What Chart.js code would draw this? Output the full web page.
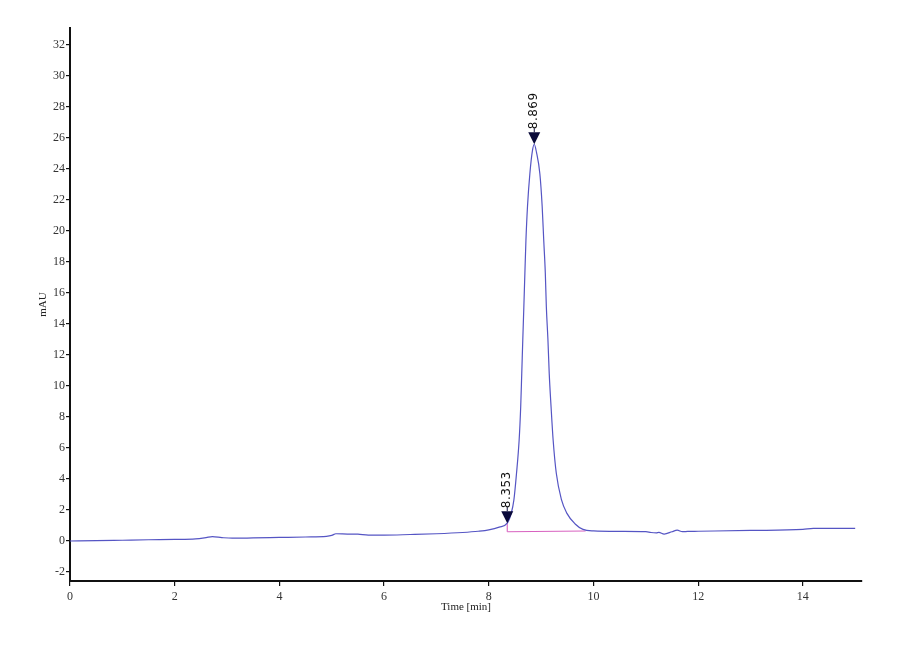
<!DOCTYPE html>
<html>
<head>
<meta charset="utf-8">
<script src="https://cdn.jsdelivr.net/npm/chart.js@4.4.1/dist/chart.umd.min.js"></script>
<style>
  html, body { margin: 0; padding: 0; background: #ffffff; }
  #wrap { width: 900px; height: 660px; }
</style>
</head>
<body>
<div id="wrap"><canvas id="c" width="900" height="660"></canvas></div>
<script>
// Retention time (min)
const times = [0, 0.5, 1.0, 1.5, 2.0, 2.4, 2.6, 2.72, 2.9, 3.1, 3.5, 4.0, 4.5, 4.9, 5.0, 5.08, 5.3, 5.5, 5.7, 6.0, 6.5, 7.0, 7.5, 7.8, 8.0, 8.2,
  8.353, 8.43, 8.48, 8.53, 8.58, 8.61, 8.63, 8.65, 8.67, 8.69, 8.71, 8.74, 8.785, 8.835, 8.869, 8.91, 8.976, 9.02, 9.05, 9.08, 9.10, 9.13, 9.155,
  9.19, 9.23, 9.29, 9.39, 9.49, 9.65, 9.80, 10.0, 10.5, 11.0, 11.1, 11.2, 11.25, 11.35, 11.5, 11.6, 11.7, 11.8, 12.0, 13.0, 14.0, 14.2, 15.0];
// Detector signal (mAU)
const signal = [0.0, 0.02, 0.05, 0.08, 0.1, 0.14, 0.22, 0.28, 0.22, 0.18, 0.2, 0.23, 0.26, 0.3, 0.36, 0.47, 0.45, 0.44, 0.38, 0.38, 0.42, 0.47, 0.55, 0.63, 0.72, 0.9,
  1.15, 1.8, 2.65, 4.37, 6.5, 8.66, 10.8, 13.0, 15.1, 17.3, 19.4, 21.6, 23.7, 25.2, 25.6, 25.1, 23.7, 21.6, 19.4, 17.3, 15.1, 13.0, 10.8,
  8.66, 6.5, 4.37, 2.65, 1.8, 1.1, 0.75, 0.65, 0.62, 0.6, 0.55, 0.53, 0.56, 0.45, 0.6, 0.7, 0.6, 0.62, 0.63, 0.68, 0.75, 0.82, 0.82];

// Integration baseline
const baseTimes = [8.353, 9.85];
const baseValues = [0.6, 0.65];

// Peak marks
const peakTimes = [8.353, 8.869];
const peakHeights = [1.15, 25.6];
const peakLabels = ["8.353", "8.869"];

// Axis ticks
const xTicks = [0, 2, 4, 6, 8, 10, 12, 14];
const yTicks = [-2, 0, 2, 4, 6, 8, 10, 12, 14, 16, 18, 20, 22, 24, 26, 28, 30, 32];

const traceData = times.map((t, i) => ({ x: t, y: signal[i] }));
const baseData = baseTimes.map((t, i) => ({ x: t, y: baseValues[i] }));
const dropData = [{ x: peakTimes[0], y: baseValues[0] }, { x: peakTimes[0], y: peakHeights[0] }];

const peakPlugin = {
  id: 'peakMarks',
  afterDatasetsDraw(chart) {
    const ctx = chart.ctx;
    const xs = chart.scales.x, ys = chart.scales.y;
    peakTimes.forEach((t, i) => {
      const px = xs.getPixelForValue(t);
      const py = ys.getPixelForValue(peakHeights[i]);
      const h = 12, w = 12;
      ctx.save();
      ctx.fillStyle = '#0a0a3a';
      ctx.beginPath();
      ctx.moveTo(px, py);
      ctx.lineTo(px - w / 2, py - h);
      ctx.lineTo(px + w / 2, py - h);
      ctx.closePath();
      ctx.fill();
      ctx.strokeStyle = '#0a0a3a';
      ctx.lineWidth = 1;
      ctx.beginPath();
      ctx.moveTo(px, py - h);
      ctx.lineTo(px, py - h - 4);
      ctx.stroke();
      ctx.translate(px, py - h - 3);
      ctx.rotate(-Math.PI / 2);
      ctx.fillStyle = '#111111';
      ctx.font = '12px "DejaVu Sans", sans-serif';
      ctx.textAlign = 'left';
      ctx.textBaseline = 'middle';
      if ('letterSpacing' in ctx) ctx.letterSpacing = '0.5px';
      ctx.fillText(peakLabels[i], 0, 0);
      ctx.restore();
    });
  }
};

const tickFont = { family: '"Liberation Serif", "Times New Roman", serif', size: 12 };

new Chart(document.getElementById('c'), {
  type: 'line',
  data: {
    datasets: [
      { data: traceData, borderColor: '#5555c4', borderWidth: 1.2, pointRadius: 0, cubicInterpolationMode: 'monotone', fill: false, order: 1 },
      { data: baseData, borderColor: '#d862c0', borderWidth: 1.1, pointRadius: 0, fill: false, order: 2 },
      { data: dropData, borderColor: '#d862c0', borderWidth: 1.1, pointRadius: 0, fill: false, order: 2 }
    ]
  },
  options: {
    responsive: false,
    animation: false,
    devicePixelRatio: 1,
    layout: { padding: { top: 28, right: 38, left: 0, bottom: 0 } },
    plugins: { legend: { display: false }, tooltip: { enabled: false }, title: { display: false } },
    scales: {
      x: {
        type: 'linear',
        min: 0,
        max: 15.13,
        afterBuildTicks: (s) => { s.ticks = xTicks.map(v => ({ value: v })); },
        afterFit: (s) => { s.height = 79; },
        grid: { display: true, drawOnChartArea: false, drawTicks: true, tickLength: 5, color: '#111', lineWidth: 1.2 },
        border: { display: true, color: '#111', width: 2 },
        ticks: { font: tickFont, color: '#333', padding: 4, maxRotation: 0, autoSkip: false },
        title: { display: true, text: 'Time [min]', font: { family: '"Liberation Serif", serif', size: 11 }, color: '#222', padding: { top: 0, bottom: 46 } }
      },
      y: {
        type: 'linear',
        min: -2.58,
        max: 33.1,
        afterBuildTicks: (s) => { s.ticks = yTicks.map(v => ({ value: v })); },
        afterFit: (s) => { s.width = 70; },
        grid: { display: true, drawOnChartArea: false, drawTicks: true, tickLength: 4, color: '#111', lineWidth: 1.2 },
        border: { display: true, color: '#111', width: 2 },
        ticks: { font: tickFont, color: '#333', padding: 1, autoSkip: false },
        title: { display: true, text: 'mAU', font: { family: '"Liberation Serif", serif', size: 11 }, color: '#222', padding: { top: 37, bottom: 0 } }
      }
    }
  },
  plugins: [peakPlugin]
});
</script>
</body>
</html>
